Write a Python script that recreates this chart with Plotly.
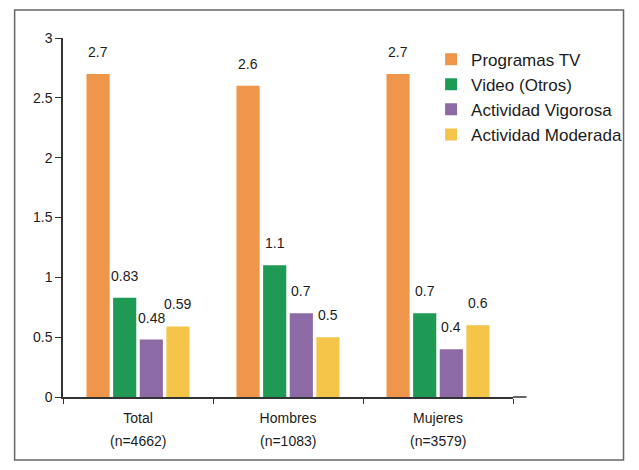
import plotly.graph_objects as go

categories = ["Total", "Hombres", "Mujeres"]
n_labels = ["(n=4662)", "(n=1083)", "(n=3579)"]
series_names = ["Programas TV", "Video (Otros)", "Actividad Vigorosa", "Actividad Moderada"]
programas_tv = [2.7, 2.6, 2.7]
video_otros = [0.83, 1.1, 0.7]
actividad_vigorosa = [0.48, 0.7, 0.4]
actividad_moderada = [0.59, 0.5, 0.6]
colors = ["#F0964B", "#1F9A55", "#8C6AA6", "#F5C54A"]
y_ticks = [0, 0.5, 1, 1.5, 2, 2.5, 3]

series = [programas_tv, video_otros, actividad_vigorosa, actividad_moderada]

FONT = "Liberation Sans, Arial, sans-serif"
TXT = "#1c1c1c"
BARGAP = 0.29
BARGROUPGAP = 0.13

fig = go.Figure()
for name, vals, col in zip(series_names, series, colors):
    fig.add_trace(go.Bar(
        name=name, x=categories, y=vals,
        marker=dict(color=col, line=dict(width=0)),
        legendgroup=name,
    ))

# value labels above each bar, placed via the category axis
nser = len(series)
slot = (1 - BARGAP) / nser
for si, vals in enumerate(series):
    off = (si - (nser - 1) / 2) * slot
    for ci, v in enumerate(vals):
        fig.add_annotation(x=ci + off, y=v, xref="x", yref="y", text=f"{v:g}",
                           showarrow=False, yanchor="middle", yshift=22,
                           font=dict(family=FONT, size=14, color=TXT))

for cat, nl in zip(categories, n_labels):
    fig.add_annotation(x=cat, y=-0.123, xref="x", yref="paper", text=nl,
                       showarrow=False, yanchor="middle",
                       font=dict(family=FONT, size=14, color=TXT))

fig.add_shape(type="rect", xref="paper", yref="paper",
              x0=-0.1075, x1=1.2456, y0=-0.1755, y1=1.078,
              line=dict(color="#666", width=1.5), fillcolor="rgba(0,0,0,0)")
fig.add_shape(type="line", xref="paper", yref="paper",
              x0=1.0, x1=1.03, y0=0, y1=0,
              line=dict(color="#333", width=1.5))

fig.update_layout(
    width=639, height=470,
    margin=dict(l=63, r=120, t=38, b=73),
    paper_bgcolor="white", plot_bgcolor="white",
    barmode="group", bargap=BARGAP, bargroupgap=BARGROUPGAP,
    font=dict(family=FONT, size=14, color=TXT),
    showlegend=True,
    legend=dict(x=0.818, y=0.99, xanchor="left", yanchor="top",
                font=dict(family=FONT, size=17, color=TXT),
                traceorder="grouped", tracegroupgap=0,
                itemwidth=30, bgcolor="rgba(0,0,0,0)"),
    xaxis=dict(showline=True, linecolor="#333", linewidth=1.5,
               ticks="outside", ticklen=5, tickcolor="#333", tickson="boundaries",
               ticklabelstandoff=7,
               showgrid=False, tickfont=dict(family=FONT, size=14, color=TXT)),
    yaxis=dict(range=[0, 3], tickvals=y_ticks, ticktext=[f"{t:g}" for t in y_ticks],
               showline=True, linecolor="#333", linewidth=1.5,
               ticks="outside", ticklen=6, tickcolor="#333",
               showgrid=False, zeroline=False,
               tickfont=dict(family=FONT, size=14, color=TXT)),
)

fig.write_html("out.html")
